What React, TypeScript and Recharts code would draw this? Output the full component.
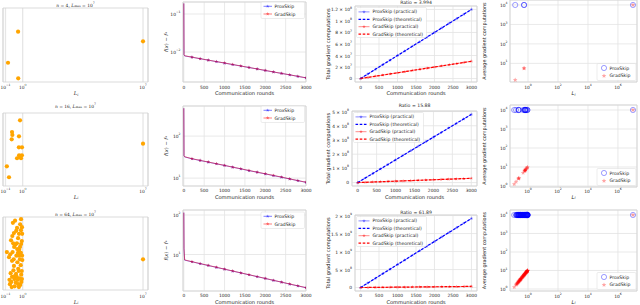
import React from "react";
import {
  CartesianGrid,
  Line,
  LineChart,
  ReferenceArea,
  Scatter,
  ScatterChart,
  XAxis,
  YAxis,
} from "recharts";

// ---------- data ----------
// smoothness constants L_i of every client (col 1 and col 4)
const L4 = [0.14, 0.54, 0.55, 1e7];
const L16 = [0.7, 0.24, 0.25, 0.61, 0.23, 0.6, 0.91, 0.62, 0.9, 0.7, 0.47, 0.12, 0.16, 1e7, 0.65, 0.8];
const L64 = [
  0.27, 0.8, 0.47, 0.91, 0.31, 0.61, 0.93, 0.21, 0.28, 0.46, 0.89, 0.32, 0.7, 0.48, 0.12, 0.26,
  0.53, 0.78, 0.62, 0.16, 0.3, 0.69, 0.95, 0.55, 0.2, 0.41, 0.82, 0.24, 0.33, 0.17, 0.52, 0.9,
  0.18, 0.4, 0.72, 0.23, 0.6, 0.45, 0.36, 0.71, 0.42, 0.79, 0.25, 0.54, 0.37, 0.81, 0.63, 0.19,
  0.43, 0.92, 0.24, 0.49, 0.77, 0.31, 0.59, 0.29, 0.88, 0.35, 0.67, 0.22, 0.56, 0.34, 0.84, 1e7,
];
// vertical position of each client in col 1 (no y axis shown)
const pos4 = [0.26, 0.68, 0.05, 0.55];
const pos16 = [0.9, 0.74, 0.7, 0.68, 0.64, 0.53, 0.53, 0.42, 0.42, 0.4, 0.38, 0.27, 0.12, 0.58, 0.41, 0.38];
const pos64 = [
  0.92, 0.97, 0.85, 0.86, 0.78, 0.77, 0.77, 0.68, 0.64, 0.64, 0.67, 0.59, 0.59, 0.56, 0.52, 0.52,
  0.51, 0.51, 0.47, 0.45, 0.42, 0.42, 0.41, 0.29, 0.23, 0.22, 0.21, 0.18, 0.15, 0.14, 0.14, 0.15,
  0.08, 0.1, 0.07, 0.04, 0.04, 0.18, 0.95, 0.9, 0.81, 0.82, 0.74, 0.71, 0.62, 0.63, 0.55, 0.49,
  0.47, 0.47, 0.4, 0.38, 0.34, 0.33, 0.26, 0.27, 0.26, 0.19, 0.16, 0.11, 0.08, 0.05, 0.11, 0.42,
];
// average gradient computations per client (col 4)
const proxAvg = 10000;
const gradAvg4 = [1.4, 5.5, 5.6, 10000];
const gradAvg16 = [7.35, 2.52, 2.63, 6.41, 2.42, 6.3, 9.56, 6.51, 9.45, 7.4, 4.94, 1.26, 1.68, 10000, 6.83, 8.4];
const gradAvg64 = [
  2.84, 8.4, 4.94, 9.56, 3.26, 6.41, 9.77, 2.21, 2.94, 4.83, 9.35, 3.36, 7.35, 5.04, 1.26, 2.73,
  5.57, 8.19, 6.51, 1.68, 3.15, 7.25, 9.98, 5.78, 2.1, 4.31, 8.61, 2.52, 3.47, 1.79, 5.46, 9.45,
  1.89, 4.2, 7.56, 2.42, 6.3, 4.73, 3.78, 7.46, 4.41, 8.3, 2.63, 5.67, 3.89, 8.51, 6.62, 2.0,
  4.52, 9.66, 2.52, 5.15, 8.09, 3.26, 6.2, 3.05, 9.24, 3.68, 7.04, 2.31, 5.88, 3.57, 8.82, 10000,
];

// f(x) - f_* against communication rounds (col 2)
const rounds = [0, 5, 20, 200, 400, 600, 800, 1000, 1200, 1400, 1600, 1800, 2000, 2200, 2400, 2600, 2800, 3000];
const proxGap4 = [0.19, 0.0085, 0.0079, 0.00731, 0.00668, 0.00611, 0.0056, 0.00512, 0.00468, 0.00428, 0.00392, 0.00358, 0.00327, 0.00299, 0.00274, 0.00251, 0.00229, 0.00209];
const gradGap4 = [0.19, 0.0086, 0.008, 0.00735, 0.00671, 0.00613, 0.00562, 0.00515, 0.0047, 0.0043, 0.00393, 0.0036, 0.00329, 0.003, 0.00275, 0.00252, 0.0023, 0.0021];
const proxGap16 = [460, 34, 32, 28.8, 26.3, 24.0, 21.9, 20.0, 18.2, 16.6, 15.1, 13.8, 12.6, 11.5, 10.5, 9.55, 8.71, 7.94];
const gradGap16 = [460, 34.5, 32.3, 29.0, 26.5, 24.2, 22.0, 20.1, 18.3, 16.7, 15.2, 13.9, 12.7, 11.6, 10.6, 9.6, 8.75, 7.98];
const proxGap64 = [115, 14, 7.2, 6.53, 5.86, 5.26, 4.72, 4.24, 3.8, 3.41, 3.06, 2.75, 2.47, 2.21, 1.99, 1.78, 1.6, 1.44];
const gradGap64 = [115, 14.3, 7.3, 6.57, 5.9, 5.29, 4.75, 4.26, 3.82, 3.43, 3.08, 2.76, 2.48, 2.22, 2.0, 1.79, 1.61, 1.45];

// total gradient computations (col 3)
const roundsTotal = [0, 200, 400, 600, 800, 1000, 1200, 1400, 1600, 1800, 2000, 2200, 2400, 2600, 2800, 3000];
const proxTotal4 = [0, 8.03e6, 1.6e7, 2.41e7, 3.19e7, 4.0e7, 4.81e7, 5.6e7, 6.38e7, 7.2e7, 8.02e7, 8.8e7, 9.61e7, 1.04e8, 1.119e8, 1.2e8];
const proxTheory4 = [0, 8e6, 1.6e7, 2.4e7, 3.2e7, 4e7, 4.8e7, 5.6e7, 6.4e7, 7.2e7, 8e7, 8.8e7, 9.6e7, 1.04e8, 1.12e8, 1.2e8];
const gradTotal4 = [0, 2.01e6, 4.0e6, 6.02e6, 8.0e6, 1.0e7, 1.2e7, 1.41e7, 1.6e7, 1.8e7, 2.0e7, 2.21e7, 2.4e7, 2.6e7, 2.8e7, 3.0e7];
const gradTheory4 = [0, 2e6, 4e6, 6e6, 8e6, 1e7, 1.2e7, 1.4e7, 1.6e7, 1.8e7, 2e7, 2.2e7, 2.4e7, 2.6e7, 2.8e7, 3.0e7];
const proxTotal16 = [0, 3.21e7, 6.4e7, 9.62e7, 1.279e8, 1.601e8, 1.92e8, 2.242e8, 2.561e8, 2.88e8, 3.202e8, 3.519e8, 3.841e8, 4.16e8, 4.481e8, 4.8e8];
const proxTheory16 = [0, 3.2e7, 6.4e7, 9.6e7, 1.28e8, 1.6e8, 1.92e8, 2.24e8, 2.56e8, 2.88e8, 3.2e8, 3.52e8, 3.84e8, 4.16e8, 4.48e8, 4.8e8];
const gradTotal16 = [0, 2.02e6, 4.03e6, 6.05e6, 8.07e6, 1.008e7, 1.21e7, 1.411e7, 1.613e7, 1.815e7, 2.016e7, 2.218e7, 2.42e7, 2.621e7, 2.823e7, 3.023e7];
const gradTheory16 = [0, 2e6, 4e6, 6e6, 8e6, 1e7, 1.2e7, 1.4e7, 1.6e7, 1.8e7, 2e7, 2.2e7, 2.4e7, 2.6e7, 2.8e7, 3.0e7];
const proxTotal64 = [0, 1.281e8, 2.559e8, 3.841e8, 5.12e8, 6.401e8, 7.679e8, 8.96e8, 1.0241e9, 1.152e9, 1.2801e9, 1.408e9, 1.536e9, 1.6641e9, 1.792e9, 1.92e9];
const proxTheory64 = [0, 1.28e8, 2.56e8, 3.84e8, 5.12e8, 6.4e8, 7.68e8, 8.96e8, 1.024e9, 1.152e9, 1.28e9, 1.408e9, 1.536e9, 1.664e9, 1.792e9, 1.92e9];
const gradTotal64 = [0, 2.07e6, 4.14e6, 6.2e6, 8.27e6, 1.034e7, 1.241e7, 1.448e7, 1.655e7, 1.861e7, 2.068e7, 2.275e7, 2.482e7, 2.689e7, 2.895e7, 3.102e7];
const gradTheory64 = [0, 2.1e6, 4.2e6, 6.3e6, 8.4e6, 1.05e7, 1.26e7, 1.47e7, 1.68e7, 1.89e7, 2.1e7, 2.31e7, 2.52e7, 2.73e7, 2.94e7, 3.15e7];

const clientCounts = [4, 16, 64];
const ratioLabels = ["3.994", "15.88", "61.89"];
const lMaxExp = 7;

// ticks
const lTicks = [0.1, 1, 1e7];
const roundTicks = [0, 500, 1000, 1500, 2000, 2500, 3000];
const lTicksAvg = [1, 100, 1e4, 1e6];
const gapTicks = [[0.01, 0.1], [10, 100], [10, 100]];
const totalTicks = [
  [0, 2e7, 4e7, 6e7, 8e7, 1e8, 1.2e8],
  [0, 1e8, 2e8, 3e8, 4e8, 5e8],
  [0, 5e8, 1e9, 1.5e9, 2e9],
];
const avgTicks = [[10, 100, 1000, 1e4], [1, 10, 100, 1000, 1e4], [1, 10, 100, 1000, 1e4]];

const Ls = [L4, L16, L64];
const positions = [pos4, pos16, pos64];
const gradAvgs = [gradAvg4, gradAvg16, gradAvg64];
const proxGaps = [proxGap4, proxGap16, proxGap64];
const gradGaps = [gradGap4, gradGap16, gradGap64];
const proxTotals = [proxTotal4, proxTotal16, proxTotal64];
const proxTheories = [proxTheory4, proxTheory16, proxTheory64];
const gradTotals = [gradTotal4, gradTotal16, gradTotal64];
const gradTheories = [gradTheory4, gradTheory16, gradTheory64];

// ---------- layout / style ----------
const SANS = '"DejaVu Sans", sans-serif';
const SERIF = '"DejaVu Serif", serif';
const INK = "#262626";
const GRID = "#e3e3e3";
const EDGE = "#d2d2d2";
const BLUE = "#0000ff";
const RED = "#ff0000";
const ORANGE = "#ffa500";

const COLS = [[0, 158], [158, 318], [318, 479], [479, 640]];
const ROWS = [[0, 100], [100, 205], [205, 305]];
// plot boxes [x0, x1, y0, y1]
const BOX_L = [[3, 148, 8, 82], [3, 148, 113, 186], [3, 148, 217, 290]];
const BOX_GAP = [[183, 306, 2, 82], [183, 306, 106, 186], [183, 306, 210, 291]];
const BOX_TOT = [[355, 477, 6, 82], [352, 477, 111, 186], [355, 477, 215, 291]];
const BOX_AVG = [[510, 637, 0, 82], [510, 637, 105, 187], [510, 637, 210, 291]];
const TICK_Y = [87, 190.5, 295.5];
const LABEL_Y = [93.3, 197.2, 302];
const TITLE_L_Y = [4.8, 105.5, 213.5];
const TITLE_R_Y = [2.8, 105, 212.5];

const L_DOMAIN = [0.0716, 1.95e7];
const GAP_X_DOMAIN = [-20, 3000];
const AVG_X_DOMAIN = [0.063, 1.86e7];
const gapDomains = [[0.00163, 0.207], [6.5, 520], [1.19, 134]];
const totalDomains = [[-6e6, 1.26e8], [-2.4e7, 5.04e8], [-9.6e7, 2.016e9]];
const avgDomains = [[1.1, 1.8e4], [0.89, 1.83e4], [0.78, 1.86e4]];

// ---------- helpers ----------
function starPath(cx: number, cy: number, R: number, r: number) {
  let d = "";
  for (let i = 0; i < 10; i++) {
    const a = -Math.PI / 2 + (i * Math.PI) / 5;
    const rr = i % 2 ? r : R;
    d += (i ? "L" : "M") + (cx + rr * Math.cos(a)).toFixed(2) + "," + (cy + rr * Math.sin(a)).toFixed(2);
  }
  return d + "Z";
}

const supLabel = (v: number) => {
  const e = Math.round(Math.log10(v));
  return [
    <tspan key="b">10</tspan>,
    <tspan key="e" dy={-1.9} fontSize={3.1}>
      {e < 0 ? `\u2212${-e}` : `${e}`}
    </tspan>,
  ];
};

const sciLabel = (v: number) => {
  if (v === 0) return "0";
  const e = Math.floor(Math.log10(v) + 1e-9);
  const m = Math.round((v / Math.pow(10, e)) * 10) / 10;
  return [
    <tspan key="m">{`${m} \u00d7 10`}</tspan>,
    <tspan key="e" dy={-1.9} fontSize={3.1}>
      {`${e}`}
    </tspan>,
  ];
};

const numLabel = (v: number) => `${v}`;

const xTick = (ty: number, fmt: (v: number) => any, family: string) => (p: any) => (
  <text x={p.x} y={ty} textAnchor="middle" dominantBaseline="central" fontSize={4.4} fill={INK} fontFamily={family}>
    {fmt(p.payload.value)}
  </text>
);

const yTick = (tx: number, fmt: (v: number) => any) => (p: any) => (
  <text x={tx} y={p.y} textAnchor="end" dominantBaseline="central" fontSize={4.4} fill={INK} fontFamily={SANS}>
    {fmt(p.payload.value)}
  </text>
);

const starDot = (color: string, alpha: number, from: number) => (p: any) => {
  const key = `d${p.index}`;
  if (p.cx == null || p.payload.round < from) return <g key={key} />;
  return <path key={key} d={starPath(p.cx, p.cy, 1.9, 0.8)} fill={color} fillOpacity={alpha} />;
};

function frame(col: number, row: number, box: number[]) {
  const [cx0, cx1] = COLS[col];
  const [cy0, cy1] = ROWS[row];
  const [bx0, bx1, by0, by1] = box;
  return {
    style: { position: "absolute" as const, left: cx0, top: cy0 },
    width: cx1 - cx0,
    height: cy1 - cy0,
    yW: bx0 - cx0,
    xH: cy1 - by1,
    margin: { top: by0 - cy0, right: cx1 - bx1, bottom: 0, left: 0 },
  };
}

// ---------- column 1: L_i of the clients ----------
function LScatter({ r }: { r: number }) {
  const f = frame(0, r, BOX_L[r]);
  const data = Ls[r].map((L, i) => ({ L, p: positions[r][i] }));
  return (
    <div style={f.style}>
      <ScatterChart width={f.width} height={f.height} margin={f.margin}>
        <CartesianGrid horizontal={false} stroke="#e6e6e6" strokeWidth={1.3} />
        <XAxis type="number" dataKey="L" scale="log" domain={L_DOMAIN} ticks={lTicks} allowDataOverflow
          height={f.xH} axisLine={false} tickLine={false} tickSize={0} interval={0}
          tick={xTick(TICK_Y[r] - ROWS[r][0], supLabel, SERIF)} />
        <YAxis type="number" dataKey="p" domain={[0, 1]} width={f.yW} tick={false} axisLine={false} tickLine={false} />
        <ReferenceArea x1={L_DOMAIN[0]} x2={L_DOMAIN[1]} y1={0} y2={1} fill="none" stroke={EDGE} strokeWidth={0.8} ifOverflow="visible" />
        <Scatter data={data} isAnimationActive={false}
          shape={(p: any) => <circle cx={p.cx} cy={p.cy} r={2.1} fill={ORANGE} />} />
      </ScatterChart>
    </div>
  );
}

// ---------- column 2: optimality gap ----------
function GapChart({ r }: { r: number }) {
  const f = frame(1, r, BOX_GAP[r]);
  const data = rounds.map((round, i) => ({ round, prox: proxGaps[r][i], grad: gradGaps[r][i] }));
  const yd = gapDomains[r];
  return (
    <div style={f.style}>
      <LineChart width={f.width} height={f.height} margin={f.margin} data={data}>
        <CartesianGrid stroke={GRID} strokeWidth={0.8} />
        <XAxis type="number" dataKey="round" domain={GAP_X_DOMAIN} ticks={roundTicks} allowDataOverflow
          height={f.xH} axisLine={false} tickLine={false} tickSize={0} interval={0}
          tick={xTick(TICK_Y[r] - ROWS[r][0], numLabel, SANS)} />
        <YAxis type="number" scale="log" domain={yd} ticks={gapTicks[r]} allowDataOverflow
          width={f.yW} axisLine={false} tickLine={false} tickSize={0} interval={0}
          tick={yTick(f.yW - 2.5, supLabel)} />
        <ReferenceArea x1={GAP_X_DOMAIN[0]} x2={GAP_X_DOMAIN[1]} y1={yd[0]} y2={yd[1]} fill="none" stroke={EDGE} strokeWidth={0.8} ifOverflow="visible" />
        <Line dataKey="prox" stroke={BLUE} strokeOpacity={0.5} strokeWidth={1} dot={starDot(BLUE, 0.5, 200)} activeDot={false} isAnimationActive={false} />
        <Line dataKey="grad" stroke={RED} strokeOpacity={0.5} strokeWidth={1} dot={starDot(RED, 0.5, 200)} activeDot={false} isAnimationActive={false} />
      </LineChart>
    </div>
  );
}

// ---------- column 3: total gradient computations ----------
function TotalChart({ r }: { r: number }) {
  const f = frame(2, r, BOX_TOT[r]);
  const data = roundsTotal.map((round, i) => ({
    round,
    proxP: proxTotals[r][i],
    proxT: proxTheories[r][i],
    gradP: gradTotals[r][i],
    gradT: gradTheories[r][i],
  }));
  const yd = totalDomains[r];
  return (
    <div style={f.style}>
      <LineChart width={f.width} height={f.height} margin={f.margin} data={data}>
        <CartesianGrid stroke={GRID} strokeWidth={0.8} />
        <XAxis type="number" dataKey="round" domain={[-150, 3150]} ticks={roundTicks} allowDataOverflow
          height={f.xH} axisLine={false} tickLine={false} tickSize={0} interval={0}
          tick={xTick(TICK_Y[r] - ROWS[r][0], numLabel, SANS)} />
        <YAxis type="number" domain={yd} ticks={totalTicks[r]} allowDataOverflow
          width={f.yW} axisLine={false} tickLine={false} tickSize={0} interval={0}
          tick={yTick(f.yW - 3, sciLabel)} />
        <ReferenceArea x1={-150} x2={3150} y1={yd[0]} y2={yd[1]} fill="none" stroke={EDGE} strokeWidth={0.8} ifOverflow="visible" />
        <Line dataKey="proxP" stroke={BLUE} strokeOpacity={0.45} strokeWidth={1} dot={starDot(BLUE, 0.45, 0)} activeDot={false} isAnimationActive={false} />
        <Line dataKey="proxT" stroke={BLUE} strokeWidth={1.2} strokeDasharray="2.6 1.6" dot={false} activeDot={false} isAnimationActive={false} />
        <Line dataKey="gradP" stroke={RED} strokeOpacity={0.45} strokeWidth={1} dot={starDot(RED, 0.45, 0)} activeDot={false} isAnimationActive={false} />
        <Line dataKey="gradT" stroke={RED} strokeWidth={1.2} strokeDasharray="2.6 1.6" dot={false} activeDot={false} isAnimationActive={false} />
      </LineChart>
    </div>
  );
}

// ---------- column 4: average gradient computations vs L_i ----------
function AvgChart({ r }: { r: number }) {
  const f = frame(3, r, BOX_AVG[r]);
  const prox = Ls[r].map((L) => ({ L, v: proxAvg }));
  const grad = Ls[r].map((L, i) => ({ L, v: gradAvgs[r][i] }));
  const yd = avgDomains[r];
  return (
    <div style={f.style}>
      <ScatterChart width={f.width} height={f.height} margin={f.margin}>
        <CartesianGrid stroke={GRID} strokeWidth={0.8} />
        <XAxis type="number" dataKey="L" scale="log" domain={AVG_X_DOMAIN} ticks={lTicksAvg} allowDataOverflow
          height={f.xH} axisLine={false} tickLine={false} tickSize={0} interval={0}
          tick={xTick(TICK_Y[r] - ROWS[r][0], supLabel, SANS)} />
        <YAxis type="number" dataKey="v" scale="log" domain={yd} ticks={avgTicks[r]} allowDataOverflow
          width={f.yW} axisLine={false} tickLine={false} tickSize={0} interval={0}
          tick={yTick(f.yW - 2.5, supLabel)} />
        <ReferenceArea x1={AVG_X_DOMAIN[0]} x2={AVG_X_DOMAIN[1]} y1={yd[0]} y2={yd[1]} fill="none" stroke={EDGE} strokeWidth={0.8} ifOverflow="visible" />
        <Scatter data={prox} isAnimationActive={false}
          shape={(p: any) => <circle cx={p.cx} cy={p.cy} r={2.6} fill="none" stroke={BLUE} strokeOpacity={0.55} strokeWidth={0.7} />} />
        <Scatter data={grad} isAnimationActive={false}
          shape={(p: any) => <path d={starPath(p.cx, p.cy, 2.4, 1.1)} fill={RED} fillOpacity={0.35} />} />
      </ScatterChart>
    </div>
  );
}

// ---------- titles, axis labels, legends ----------
const legendFrame = (x: number, y: number, w: number, h: number) => (
  <rect x={x} y={y} width={w} height={h} rx={1.2} fill="#fff" fillOpacity={0.85} stroke="#d8d8d8" strokeWidth={0.5} />
);

const legendText = (x: number, y: number, s: string) => (
  <text x={x} y={y} dominantBaseline="central" fontSize={4.6} fill={INK} fontFamily={SANS}>{s}</text>
);

function Overlay() {
  const gapLeg = [2, 106, 212];
  const totLeg = [[356.5, 7.5], [353.5, 112.5], [356.5, 216.5]];
  const avgLeg = [63.5, 168.5, 272.5];
  return (
    <svg width={640} height={305} style={{ position: "absolute", left: 0, top: 0, pointerEvents: "none" }}>
      {[0, 1, 2].map((r) => {
        const bg = BOX_GAP[r];
        const bt = BOX_TOT[r];
        const ba = BOX_AVG[r];
        const gy = gapLeg[r];
        const [tx, ty] = totLeg[r];
        const ay = avgLeg[r];
        const totItems = [
          { s: "ProxSkip (practical)", c: BLUE, dash: false },
          { s: "ProxSkip (theoretical)", c: BLUE, dash: true },
          { s: "GradSkip (practical)", c: RED, dash: false },
          { s: "GradSkip (theoretical)", c: RED, dash: true },
        ];
        return (
          <g key={r}>
            {/* column 1 */}
            <text x={75.5} y={TITLE_L_Y[r]} textAnchor="middle" dominantBaseline="central" fontSize={4.4} fill="#222" fontFamily={SERIF}>
              <tspan fontStyle="italic">n</tspan>
              <tspan>{` = ${clientCounts[r]}, `}</tspan>
              <tspan fontStyle="italic">L</tspan>
              <tspan fontSize={3.1} dy={1}>max</tspan>
              <tspan dy={-1}>{" = 10"}</tspan>
              <tspan fontSize={3.1} dy={-1.9}>{`${lMaxExp}`}</tspan>
            </text>
            <text x={76} y={LABEL_Y[r]} textAnchor="middle" dominantBaseline="central" fontSize={5.2} fill="#222" fontFamily={SERIF} fontStyle="italic">
              <tspan>L</tspan>
              <tspan fontSize={3.6} dy={1.2}>i</tspan>
            </text>

            {/* column 2 */}
            <text x={(bg[0] + bg[1]) / 2} y={LABEL_Y[r]} textAnchor="middle" dominantBaseline="central" fontSize={5.1} fill={INK} fontFamily={SANS}>
              Communication rounds
            </text>
            <text transform={`translate(166 ${(bg[2] + bg[3]) / 2}) rotate(-90)`} textAnchor="middle" dominantBaseline="central" fontSize={5.1} fill={INK} fontFamily={SANS}>
              <tspan fontStyle="italic">f</tspan>
              <tspan>(</tspan>
              <tspan fontStyle="italic">x</tspan>
              <tspan>{") \u2212 "}</tspan>
              <tspan fontStyle="italic">f</tspan>
              <tspan fontSize={3.6} dy={1.3}>*</tspan>
            </text>
            {legendFrame(261, gy, 43.5, 16.5)}
            <line x1={263.5} x2={272} y1={gy + 4.3} y2={gy + 4.3} stroke={BLUE} strokeOpacity={0.5} strokeWidth={1} />
            <path d={starPath(267.7, gy + 4.3, 1.9, 0.8)} fill={BLUE} fillOpacity={0.5} />
            {legendText(274.5, gy + 4.3, "ProxSkip")}
            <line x1={263.5} x2={272} y1={gy + 12} y2={gy + 12} stroke={RED} strokeOpacity={0.5} strokeWidth={1} />
            <path d={starPath(267.7, gy + 12, 1.9, 0.8)} fill={RED} fillOpacity={0.5} />
            {legendText(274.5, gy + 12, "GradSkip")}

            {/* column 3 */}
            <text x={(bt[0] + bt[1]) / 2} y={TITLE_R_Y[r]} textAnchor="middle" dominantBaseline="central" fontSize={4.6} fill={INK} fontFamily={SANS}>
              {`Ratio = ${ratioLabels[r]}`}
            </text>
            <text x={(bt[0] + bt[1]) / 2} y={LABEL_Y[r]} textAnchor="middle" dominantBaseline="central" fontSize={5.1} fill={INK} fontFamily={SANS}>
              Communication rounds
            </text>
            <text transform={`translate(327.5 ${(bt[2] + bt[3]) / 2}) rotate(-90)`} textAnchor="middle" dominantBaseline="central" fontSize={5.1} fill={INK} fontFamily={SANS}>
              Total gradient computations
            </text>
            {legendFrame(tx, ty, 70, 30)}
            {totItems.map((it, k) => {
              const yy = ty + 4.4 + k * 7.4;
              return (
                <g key={k}>
                  {it.dash ? (
                    <line x1={tx + 2} x2={tx + 13} y1={yy} y2={yy} stroke={it.c} strokeWidth={1.2} strokeDasharray="2.6 1.6" />
                  ) : (
                    <>
                      <line x1={tx + 2} x2={tx + 13} y1={yy} y2={yy} stroke={it.c} strokeOpacity={0.45} strokeWidth={1} />
                      <path d={starPath(tx + 7.5, yy, 1.9, 0.8)} fill={it.c} fillOpacity={0.45} />
                    </>
                  )}
                  {legendText(tx + 16, yy, it.s)}
                </g>
              );
            })}

            {/* column 4 */}
            <text x={(ba[0] + ba[1]) / 2} y={LABEL_Y[r]} textAnchor="middle" dominantBaseline="central" fontSize={5.2} fill={INK} fontFamily={SANS} fontStyle="italic">
              <tspan>L</tspan>
              <tspan fontSize={3.6} dy={1.2}>i</tspan>
            </text>
            <text transform={`translate(484 ${(ba[2] + ba[3]) / 2}) rotate(-90)`} textAnchor="middle" dominantBaseline="central" fontSize={4.9} fill={INK} fontFamily={SANS}>
              Average gradient computations
            </text>
            {legendFrame(597, ay, 39, 17)}
            <circle cx={604} cy={ay + 4.5} r={2.6} fill="none" stroke={BLUE} strokeOpacity={0.55} strokeWidth={0.7} />
            {legendText(609.5, ay + 4.5, "ProxSkip")}
            <path d={starPath(604, ay + 12.3, 2.4, 1.1)} fill={RED} fillOpacity={0.35} />
            {legendText(609.5, ay + 12.3, "GradSkip")}
          </g>
        );
      })}
    </svg>
  );
}

export default function App() {
  return (
    <div style={{ position: "absolute", left: 0, top: 0, width: 640, height: 305, background: "#fff", overflow: "hidden" }}>
      {[0, 1, 2].map((r) => (
        <React.Fragment key={r}>
          <LScatter r={r} />
          <GapChart r={r} />
          <TotalChart r={r} />
          <AvgChart r={r} />
        </React.Fragment>
      ))}
      <Overlay />
    </div>
  );
}
